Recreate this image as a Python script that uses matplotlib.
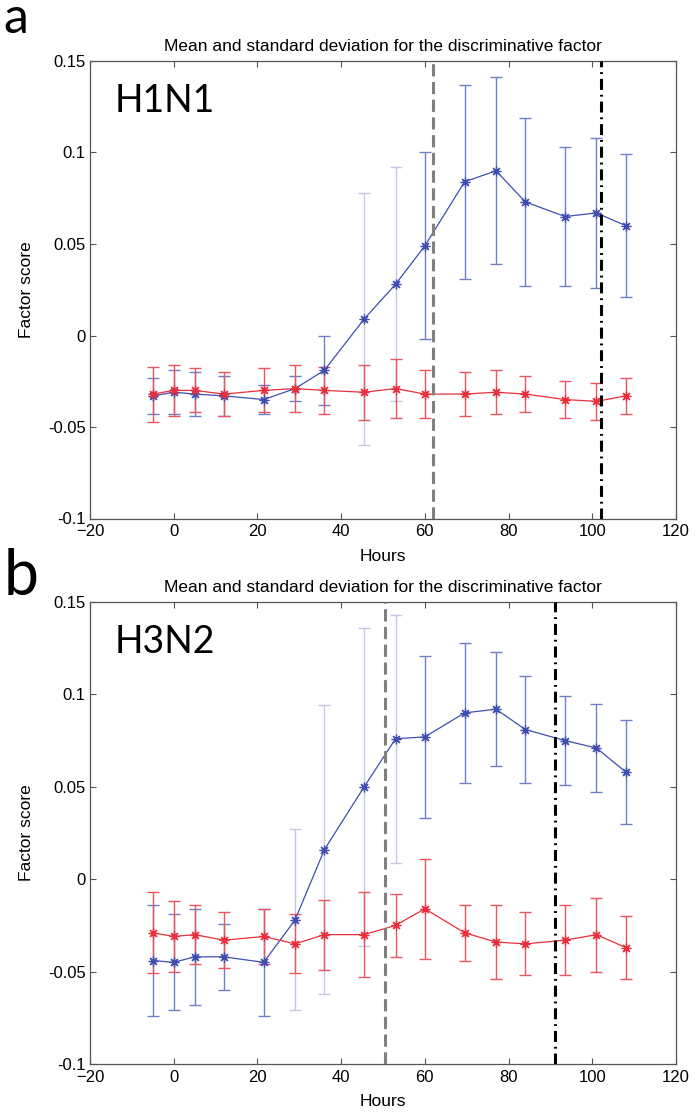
import numpy as np
import matplotlib
matplotlib.use('Agg')
import matplotlib.pyplot as plt
from matplotlib.ticker import FuncFormatter

plt.rcParams['font.family'] = ['Liberation Sans', 'DejaVu Sans']

# time points (hours), same for both panels
hours = [-5, 0, 5, 12, 21.5, 29, 36, 45.5, 53, 60, 69.5, 77, 84, 93.5, 101, 108]

# panel a (H1N1)
a_blue_mean = [-0.033, -0.031, -0.032, -0.033, -0.035, -0.029, -0.019, 0.009,
               0.028, 0.049, 0.084, 0.090, 0.073, 0.065, 0.067, 0.060]
a_blue_std = [0.010, 0.012, 0.012, 0.011, 0.008, 0.007, 0.019, 0.069,
              0.064, 0.051, 0.053, 0.051, 0.046, 0.038, 0.041, 0.039]
a_red_mean = [-0.032, -0.030, -0.030, -0.032, -0.030, -0.029, -0.030, -0.031,
              -0.029, -0.032, -0.032, -0.031, -0.032, -0.035, -0.036, -0.033]
a_red_std = [0.015, 0.014, 0.012, 0.012, 0.012, 0.013, 0.013, 0.015,
             0.016, 0.013, 0.012, 0.012, 0.010, 0.010, 0.010, 0.010]
a_lines = [62, 102]

# panel b (H3N2)
b_blue_mean = [-0.044, -0.045, -0.042, -0.042, -0.045, -0.022, 0.016, 0.050,
               0.076, 0.077, 0.090, 0.092, 0.081, 0.075, 0.071, 0.058]
b_blue_std = [0.030, 0.026, 0.026, 0.018, 0.029, 0.049, 0.078, 0.086,
              0.067, 0.044, 0.038, 0.031, 0.029, 0.024, 0.024, 0.028]
b_red_mean = [-0.029, -0.031, -0.030, -0.033, -0.031, -0.035, -0.030, -0.030,
              -0.025, -0.016, -0.029, -0.034, -0.035, -0.033, -0.030, -0.037]
b_red_std = [0.022, 0.019, 0.016, 0.015, 0.015, 0.016, 0.019, 0.023,
             0.017, 0.027, 0.015, 0.020, 0.017, 0.019, 0.020, 0.017]
b_lines = [50.5, 91]

title = 'Mean and standard deviation for the discriminative factor'

BLUE = '#3f4fb0'
BLUE_BAR = '#6f7fc4'
BLUE_FADE = '#c3c8e4'
RED = '#e8303c'
RED_BAR = '#ea5560'


def draw_panel(ax, blue_m, blue_s, red_m, red_s, vlines, faded, name):
    x = np.array(hours)
    for i in range(len(x)):
        c = BLUE_FADE if i in faded else BLUE_BAR
        ax.errorbar(x[i], blue_m[i], yerr=blue_s[i], fmt='none', ecolor=c,
                    elinewidth=1, capsize=4.5, capthick=1, zorder=2)
        ax.errorbar(x[i], red_m[i], yerr=red_s[i], fmt='none', ecolor=RED_BAR,
                    elinewidth=1, capsize=4.5, capthick=1, zorder=2)
    ax.plot(x, blue_m, color=BLUE, lw=0.9, marker=(8, 2, 0), ms=7, mew=0.9, zorder=3)
    ax.plot(x, red_m, color=RED, lw=0.9, marker=(8, 2, 0), ms=7, mew=0.9, zorder=3)

    ax.axvline(vlines[0], color='#808080', lw=2.2, ls=(0, (4, 1.8)), zorder=4)
    ax.axvline(vlines[1], color='black', lw=2.2, ls=(0, (3.6, 1.6, 0.6, 1.6)), zorder=4)

    ax.set_xlim(-20, 120)
    ax.set_ylim(-0.1, 0.15)
    ax.set_xticks(np.arange(-20, 121, 20))
    ax.set_yticks([-0.1, -0.05, 0, 0.05, 0.1, 0.15])
    ax.yaxis.set_major_formatter(FuncFormatter(lambda v, p: ('%g' % round(v, 3))))
    ax.tick_params(direction='in', top=True, right=True, length=4.5, width=0.8,
                   labelsize=12, color='#555555')
    ax.tick_params(axis='x', pad=4)
    ax.tick_params(axis='y', pad=3)
    for s in ax.spines.values():
        s.set_color('#555555')
        s.set_linewidth(0.9)
    ax.set_xlabel('Hours', fontsize=12.5, labelpad=7)
    ax.set_ylabel('Factor score', fontsize=12.5, labelpad=10)
    ax.set_title(title, fontsize=12.5, pad=7)
    ax.text(-14.2, 0.1222, name, fontsize=27, family=['Lato', 'DejaVu Sans'],
            ha='left', va='baseline')


fig = plt.figure(figsize=(6.96, 11.13), dpi=100)
ax_a = fig.add_axes([90 / 696, 1 - 518.5 / 1113, 586 / 696, 457.5 / 1113])
ax_b = fig.add_axes([90 / 696, 1 - 1064 / 1113, 586 / 696, 462 / 1113])

draw_panel(ax_a, a_blue_mean, a_blue_std, a_red_mean, a_red_std, a_lines, [7, 8], 'H1N1')
draw_panel(ax_b, b_blue_mean, b_blue_std, b_red_mean, b_red_std, b_lines, [5, 6, 7, 8], 'H3N2')

fig.text(3 / 696, 1 - 33 / 1113, 'a', fontsize=36, family=['Lato', 'DejaVu Sans'],
         ha='left', va='baseline')
fig.text(4 / 696, 1 - 595 / 1113, 'b', fontsize=45, family=['Lato', 'DejaVu Sans'],
         ha='left', va='baseline')

fig.savefig('out.png', dpi=100)
